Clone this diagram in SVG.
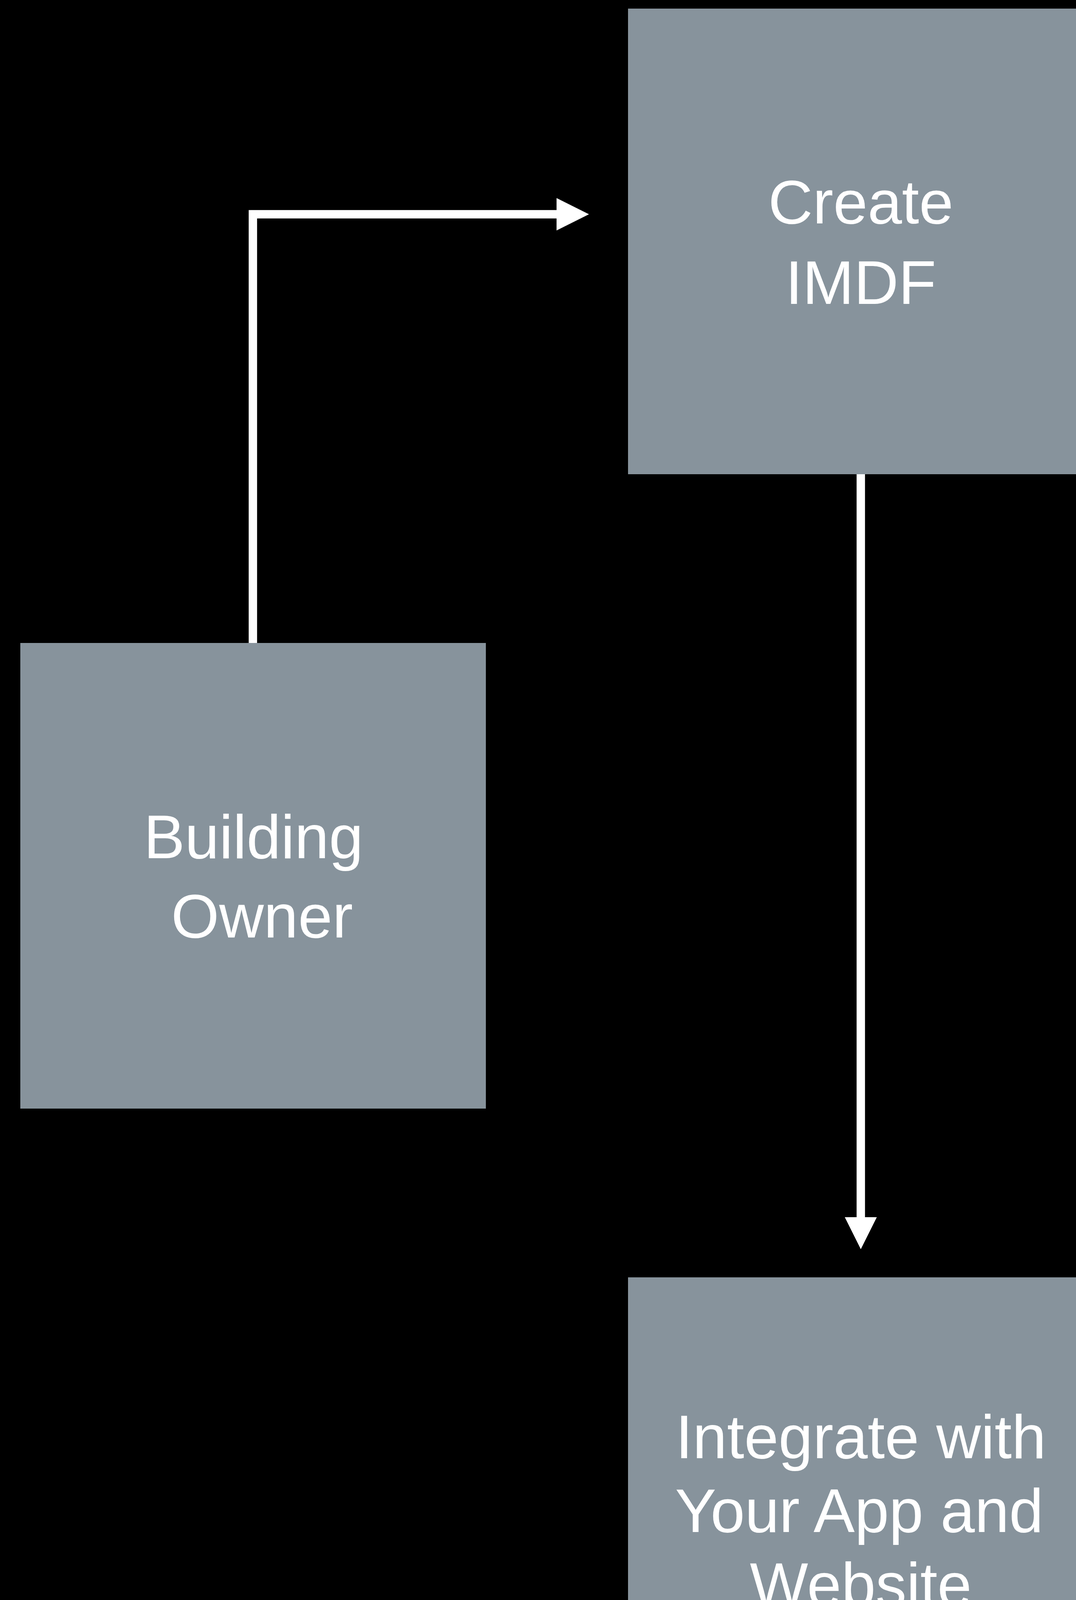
<svg xmlns="http://www.w3.org/2000/svg" width="2755" height="4453" viewBox="0 0 2755 4453">
<style>
.box{fill:#87939c}
.lbl{fill:#ffffff;font-family:"Liberation Sans",Arial,sans-serif;font-size:158px;text-anchor:middle}
.wire{fill:none;stroke:#ffffff;stroke-width:21.5}
.head{fill:#ffffff}
</style>
<rect x="0" y="0" width="2755" height="4453" fill="#000000"/>
<g id="connectors">
<path class="wire" d="M647.5 1646 V548.5 H1430"/>
<polygon class="head" points="1425,507 1508,548.5 1425,590"/>
<path class="wire" d="M2204 1214 V3120"/>
<polygon class="head" points="2163,3116 2245,3116 2204,3198"/>
</g>
<g id="node-create">
<rect class="box" x="1608" y="22" width="1192" height="1192"/>
<text class="lbl" x="2204" y="572">Create</text>
<text class="lbl" x="2204" y="778">IMDF</text>
</g>
<g id="node-owner">
<rect class="box" x="52" y="1646" width="1192" height="1192"/>
<text class="lbl" x="649" y="2197">Building</text>
<text class="lbl" x="671" y="2400">Owner</text>
</g>
<g id="node-integrate">
<rect class="box" x="1608" y="3270" width="1192" height="1192"/>
<text class="lbl" x="2204" y="3733">Integrate with</text>
<text class="lbl" x="2200" y="3922">Your App and</text>
<text class="lbl" x="2204" y="4111">Website</text>
</g>
</svg>
